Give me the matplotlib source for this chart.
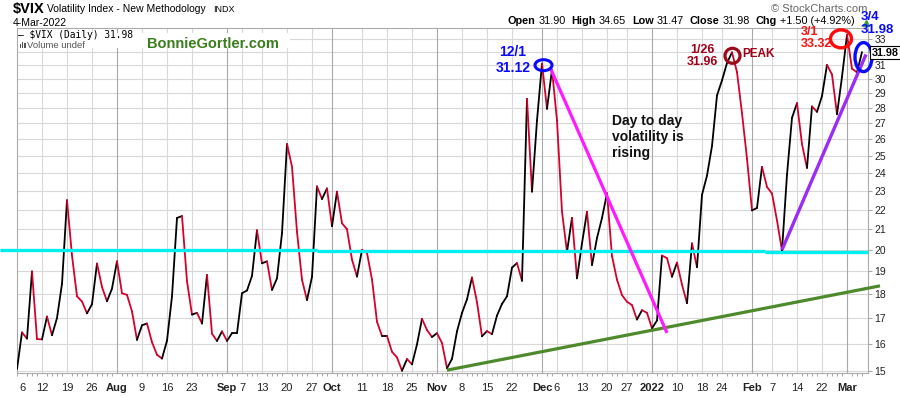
import numpy as np
import pandas as pd
import matplotlib
matplotlib.use("Agg")
import matplotlib.pyplot as plt
from matplotlib.collections import LineCollection
from matplotlib.patches import Ellipse, Rectangle
from matplotlib.lines import Line2D
from matplotlib.transforms import ScaledTranslation
import matplotlib.ticker as mticker

plt.rcParams['font.family'] = ['Liberation Sans', 'DejaVu Sans']

# ---------------- data ----------------
jul = [15.07, 16.44, 16.20, 19.00, 16.18, 16.17, 17.07, 16.33, 17.01, 18.45,
       22.50, 19.73, 17.91, 17.69, 17.20, 17.58, 19.36, 18.31, 17.70, 18.24]
aug = [19.46, 18.04, 17.97, 17.28, 16.15, 16.72, 16.79, 16.06, 15.59, 15.45,
       16.12, 17.91, 21.57, 21.67, 18.56, 17.15, 17.22, 16.79, 18.84, 16.39,
       16.11, 16.48]
sep = [16.11, 16.41, 16.41, 18.04, 18.16, 18.80, 20.95, 19.37, 19.46, 18.18,
       18.69, 20.81, 25.71, 24.36, 20.87, 18.63, 17.75, 18.76, 23.25, 22.56,
       23.14]
octo = [21.15, 22.96, 21.30, 21.00, 19.54, 18.77, 20.00, 19.85, 18.64, 16.86,
        16.30, 16.30, 15.70, 15.49, 15.01, 15.43, 15.24, 15.98, 16.98, 16.53,
        16.26]
nov = [16.41, 16.03, 15.10, 15.44, 16.48, 17.22, 17.78, 18.73, 17.66, 16.29,
       16.49, 16.37, 17.11, 17.59, 17.91, 19.17, 19.38, 18.58, 28.62, 22.96,
       27.19]
dec = [31.12, 27.95, 30.67, 27.18, 21.89, 19.90, 21.58, 18.69, 20.31, 21.89,
       19.29, 20.57, 21.57, 22.87, 19.70, 18.63, 17.96, 17.68, 17.54, 16.95,
       17.33, 17.22]
jan = [16.60, 16.91, 19.73, 19.61, 18.76, 19.40, 18.41, 17.62, 20.31, 19.19,
       22.79, 23.85, 25.59, 28.85, 29.90, 31.16, 31.96, 30.49, 27.66, 24.83]
feb = [21.96, 22.09, 24.35, 23.22, 22.86, 21.44, 19.96, 23.91, 27.36, 28.33,
       25.70, 24.29, 28.11, 27.75, 28.81, 31.02, 30.32, 27.59, 30.15]
mar = [33.32, 30.74, 30.48, 31.98]
values = np.array(jul + aug + sep + octo + nov + dec + jan + feb + mar)

holidays = ['2021-07-05', '2021-09-06', '2021-11-25', '2021-12-24',
            '2022-01-17', '2022-02-21']
dates = pd.bdate_range('2021-07-02', '2022-03-04', freq='C', holidays=holidays)
assert len(dates) == len(values)

tick_dates = ['2021-07-06', '2021-07-12', '2021-07-19', '2021-07-26', '2021-08-02',
              '2021-08-09', '2021-08-16', '2021-08-23', '2021-09-01', '2021-09-07',
              '2021-09-13', '2021-09-20', '2021-09-27', '2021-10-01', '2021-10-11',
              '2021-10-18', '2021-10-25', '2021-11-01', '2021-11-08', '2021-11-15',
              '2021-11-22', '2021-12-01', '2021-12-06', '2021-12-13', '2021-12-20',
              '2021-12-27', '2022-01-03', '2022-01-10', '2022-01-18', '2022-01-24',
              '2022-02-01', '2022-02-07', '2022-02-14', '2022-02-22', '2022-03-01']
tick_labels = ['6', '12', '19', '26', 'Aug', '9', '16', '23', 'Sep', '7', '13', '20',
               '27', 'Oct', '11', '18', '25', 'Nov', '8', '15', '22', 'Dec', '6', '13',
               '20', '27', '2022', '10', '18', '24', 'Feb', '7', '14', '22', 'Mar']
month_labels = ['Aug', 'Sep', 'Oct', 'Nov', 'Dec', '2022', 'Feb', 'Mar']
y_ticks = list(range(15, 34))

# trend lines (index, value) endpoints
green_line = ([86.0, 172.6], [15.03, 18.36])
magenta_line = ([106.6, 130.0], [30.85, 16.42])
purple_line = ([153.0, 169.8], [20.0, 31.8])

# ---------------- figure ----------------
W, H = 900, 396
fig = plt.figure(figsize=(W / 100, H / 100), dpi=100)
fig.patch.set_facecolor('white')
L, R, T, B = 17, 868, 28, 373
ax = fig.add_axes([L / W, 1 - B / H, (R - L) / W, (B - T) / H])
ax.set_yscale('log')
ax.set_xlim(0, 170.2)
ax.set_ylim(14.929, 33.86)


def fx(px):
    return px / W


def fy(py):
    return 1 - py / H


idx = np.arange(len(values))
date_index = {d.strftime('%Y-%m-%d'): i for i, d in enumerate(dates)}
tick_idx = [date_index[d] for d in tick_dates]

# grid
ax.yaxis.set_major_locator(mticker.FixedLocator(y_ticks))
ax.yaxis.set_minor_locator(mticker.NullLocator())
ax.yaxis.set_major_formatter(mticker.FixedFormatter(['' if v == 32 else str(v) for v in y_ticks]))
ax.yaxis.tick_right()
ax.tick_params(axis='y', length=3, color='#aaaaaa', pad=1.5, labelsize=7.5, labelcolor='#222222')
for v in y_ticks:
    ax.axhline(v, color='#d8d8d8', lw=0.8, zorder=0)
for ti, lab in zip(tick_idx, tick_labels):
    if lab == '6' and ti == 1:
        continue
    ax.axvline(ti, color='#a8a8a8' if lab in month_labels else '#d8d8d8', lw=0.8, zorder=0)

ax.set_xticks(tick_idx)
ax.set_xticklabels(tick_labels)
for t in ax.get_xticklabels():
    t.set_fontsize(8)
    t.set_color('#222222')
    if t.get_text() in month_labels:
        t.set_fontweight('bold')
ax.tick_params(axis='x', length=0, pad=7)
ax.xaxis.set_minor_locator(mticker.FixedLocator(idx))
ax.tick_params(axis='x', which='minor', length=2.5, width=0.6, color='#999999')
for s in ax.spines.values():
    s.set_color('#aaaaaa')
    s.set_linewidth(0.8)

# white box behind the legend text
ax.add_patch(Rectangle((fx(18), fy(47.5)), fx(290) - fx(18), fy(33) - fy(47.5),
                       transform=fig.transFigure, facecolor='white', edgecolor='none', zorder=1))

# price line, black up / red down
pts = np.column_stack([idx, values])
segs = np.stack([pts[:-1], pts[1:]], axis=1)
cols = ['#000000' if values[i + 1] >= values[i] else '#d6002c' for i in range(len(values) - 1)]
lc = LineCollection(segs, colors=cols, linewidths=1.3, zorder=3, capstyle='round')
ax.add_collection(lc)

# horizontal cyan line at 20
ax.plot([-3.4, 60.0], [20.0, 20.0], color='#00eeee', lw=2.4, clip_on=False, zorder=4, solid_capstyle='butt')
ax.plot([60.0, 149.6], [19.96, 19.96], color='#00eeee', lw=2.4, clip_on=False, zorder=4, solid_capstyle='butt')
ax.plot([149.6, 170.2], [19.91, 19.91], color='#00eeee', lw=2.4, clip_on=False, zorder=4, solid_capstyle='butt')

ax.plot(*green_line, color='#4e8a2c', lw=2.3, clip_on=False, zorder=4, solid_capstyle='butt')
ax.plot(*magenta_line, color='#ff1aff', lw=2.3, clip_on=False, zorder=4, solid_capstyle='butt')
ax.plot(*purple_line, color='#9a2cf5', lw=2.4, clip_on=False, zorder=4, solid_capstyle='butt')


def ellipse(xd, yd, wpx, hpx, color, lw):
    tr = fig.dpi_scale_trans + ScaledTranslation(xd, yd, ax.transData)
    e = Ellipse((0, 0), wpx / 100, hpx / 100, transform=tr, fill=False,
                edgecolor=color, lw=lw, zorder=6, clip_on=False)
    fig.add_artist(e)


ellipse(105.3, 31.0, 17, 11, '#0a0aff', 2.2)
ellipse(143.1, 31.7, 15, 15, '#9b0a1a', 2.3)
ellipse(164.8, 33.0, 21, 18, '#ff0a0a', 2.4)
ellipse(169.3, 31.6, 17, 29, '#0a0aff', 2.4)

# ---------------- texts ----------------
fig.text(fx(513), fy(60), '12/1\n31.12', ha='center', va='center', color='#0a0aff',
         fontsize=10, fontweight='bold', linespacing=1.2)
fig.text(fx(702), fy(56), '1/26\n31.96', ha='center', va='center', color='#a00018',
         fontsize=9, fontweight='bold', linespacing=1.05)
fig.text(fx(742), fy(54), 'PEAK', ha='left', va='center', color='#a00018',
         fontsize=8.5, fontweight='bold')
fig.text(fx(801), fy(38), '3/1\n33.32', ha='left', va='center', color='#ff1010',
         fontsize=9, fontweight='bold', linespacing=1.1)
fig.text(fx(861), fy(23.5), '3/4\n31.98', ha='left', va='center', color='#0a0aff',
         fontsize=9.5, fontweight='bold', linespacing=1.1)
fig.text(fx(612), fy(137), 'Day to day\nvolatility is\nrising', ha='left', va='center',
         color='#111111', fontsize=10, fontweight='bold', linespacing=1.2)
fig.text(fx(147), fy(44), 'BonnieGortler.com', ha='left', va='center', color='#3a7d1c',
         fontsize=10.5, fontweight='bold', zorder=7)

# header
fig.text(fx(13), fy(9.5), '$VIX', ha='left', va='center', fontsize=10.5, fontweight='bold')
fig.text(fx(47), fy(9.5), 'Volatility Index - New Methodology', ha='left', va='center', fontsize=7.5)
fig.text(fx(213), fy(10), 'INDX', ha='left', va='center', fontsize=6.5)
fig.text(fx(13), fy(23.5), '4-Mar-2022', ha='left', va='center', fontsize=7.5)
fig.text(fx(18), fy(35), '\u2014 $VIX (Daily) 31.98', ha='left', va='center', fontsize=6.9,
         family='DejaVu Sans Mono', zorder=7)
fig.text(fx(27), fy(45), 'Volume undef', ha='left', va='center', fontsize=6.8, color='#555555', zorder=7)
for k, hh in enumerate([4, 6, 5]):
    fig.add_artist(Rectangle((fx(19.5 + 2.2 * k), fy(48)), 1.6 / W, hh / H,
                             transform=fig.transFigure, facecolor='#555555', edgecolor='none'))

fig.text(fx(867), fy(8.5), '\u00a9 StockCharts.com', ha='right', va='center', fontsize=8, color='#666666')
fig.add_artist(Line2D([fx(866)], [fy(23)], marker='^', markersize=4.5, color='#3a9a3a',
                      transform=fig.transFigure, linestyle='none', zorder=1))

# Open/High/Low/Close line, chained pieces
parts = [('Open', True), ('31.90', False), ('High', True), ('34.65', False), ('Low', True),
         ('31.47', False), ('Close', True), ('31.98', False), ('Chg', True), ('+1.50 (+4.92%)', False)]
prev_t = fig.text(fx(508), fy(21), parts[0][0], ha='left', va='center', fontsize=7.8, fontweight='bold')
for k in range(1, len(parts)):
    s, b = parts[k]
    gap = 2.0 if parts[k - 1][1] else 4.3
    prev_t = ax.annotate(s, xy=(1, 0.5), xycoords=prev_t, xytext=(gap, 0),
                         textcoords='offset points', ha='left', va='center',
                         fontsize=7.8, fontweight='bold' if b else 'normal',
                         annotation_clip=False)

# price box on the right axis
fig.text(fx(871.5), fy(52.5), '31.98', ha='left', va='center', fontsize=7.8, fontweight='bold',
         bbox=dict(boxstyle='square,pad=0.15', facecolor='white', edgecolor='black', lw=0.8), zorder=8)

fig.savefig('out.png', dpi=100, facecolor='white')
